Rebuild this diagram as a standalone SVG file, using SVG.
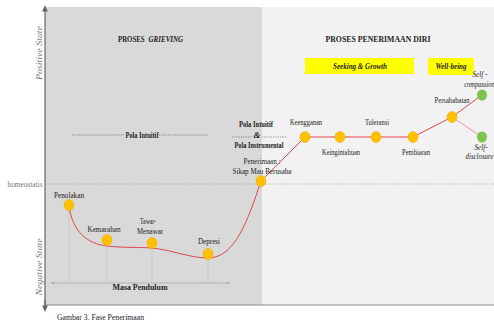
<svg xmlns="http://www.w3.org/2000/svg" width="494" height="322" viewBox="0 0 494 322">
<defs>
<style>
text{font-family:"Liberation Serif","Times New Roman",serif;fill:#222;font-size:9px;text-anchor:middle}
.b{font-weight:bold}
.i{font-style:italic}
.g{fill:#777}
.s{text-anchor:start}
.dot{fill:#ffc000;stroke:#f5a800;stroke-width:0.5}
.grn{fill:#7cc44e}
.vl{stroke:#c4c4c4;stroke-width:0.8;fill:none}
</style>
<marker id="ah" viewBox="0 0 10 10" refX="5" refY="5" markerWidth="6" markerHeight="6" orient="auto-start-reverse"><path d="M0,1 L9,5 L0,9 Z" fill="#666"/></marker>
<marker id="ah2" viewBox="0 0 10 10" refX="5" refY="5" markerWidth="5" markerHeight="5" orient="auto-start-reverse"><path d="M0,2 L9,5 L0,8 Z" fill="#aaa"/></marker>
</defs>
<rect width="494" height="322" fill="#fff"/>
<rect x="45" y="7" width="217" height="298" fill="#d9d9d9"/>
<rect x="262" y="7" width="232" height="298" fill="#f2f2f2"/>
<line x1="45" y1="305" x2="494" y2="305" stroke="#8a8a8a" stroke-width="1.2"/>
<line x1="45" y1="184" x2="494" y2="184" stroke="#999" stroke-width="0.6" stroke-dasharray="2,1.5"/>

<g id="axis">
<line x1="45" y1="305" x2="45" y2="8" stroke="#666" stroke-width="1.2" marker-end="url(#ah)"/>
<line x1="45" y1="300" x2="45" y2="309" stroke="#666" stroke-width="1.2" marker-end="url(#ah)"/>
<text class="i g" transform="translate(42,53) rotate(-90)" font-size="8.5" textLength="54" lengthAdjust="spacingAndGlyphs">Positive State</text>
<text class="i g" transform="translate(42,267) rotate(-90)" font-size="8.5" textLength="57" lengthAdjust="spacingAndGlyphs">Negative State</text>
<text class="g" x="25" y="187" font-size="7.5" textLength="35" lengthAdjust="spacingAndGlyphs">homeostatis</text>
</g>

<g id="headers">
<text class="b s" transform="translate(118,42) scale(0.76,1)" font-size="10">PROSES</text>
<text class="b i s" transform="translate(148.5,42) scale(0.78,1)" font-size="10">GRIEVING</text>
<text class="b" x="378" y="42" font-size="10" textLength="105" lengthAdjust="spacingAndGlyphs">PROSES PENERIMAAN DIRI</text>
<rect x="305" y="58" width="109" height="16" fill="#ffff00"/>
<text class="b i" x="360" y="69" font-size="8.5" textLength="54" lengthAdjust="spacingAndGlyphs">Seeking &amp; Growth</text>
<rect x="428" y="58" width="46" height="17" fill="#ffff00"/>
<text class="b i" x="451" y="69" font-size="8.5" textLength="31" lengthAdjust="spacingAndGlyphs">Well-being</text>
</g>

<g id="pola-intuitif">
<line x1="72" y1="135" x2="124" y2="135" stroke="#555" stroke-width="0.6" stroke-dasharray="1,0.8"/>
<line x1="159" y1="135" x2="208" y2="135" stroke="#555" stroke-width="0.6" stroke-dasharray="1,0.8"/>
<text class="b" x="142" y="138" font-size="8" textLength="33" lengthAdjust="spacingAndGlyphs">Pola Intuitif</text>
</g>
<g id="pola-instrumental">
<text class="b" x="256" y="126.5" font-size="8" textLength="34" lengthAdjust="spacingAndGlyphs">Pola Intuitif</text>
<line x1="232" y1="137" x2="252" y2="137" stroke="#555" stroke-width="0.6" stroke-dasharray="1,0.8"/>
<line x1="262" y1="137" x2="287" y2="137" stroke="#555" stroke-width="0.6" stroke-dasharray="1,0.8"/>
<text class="b i" x="257" y="137.5" font-size="7.5">&amp;</text>
<text class="b" x="259" y="147.5" font-size="8" textLength="49" lengthAdjust="spacingAndGlyphs">Pola Instrumental</text>
</g>

<g id="connectors">
<line class="vl" x1="69" y1="208" x2="69" y2="283"/>
<line class="vl" x1="107" y1="246" x2="107" y2="283"/>
<line class="vl" x1="152" y1="248" x2="152" y2="283"/>
<line class="vl" x1="208" y1="258" x2="208" y2="283"/>
<line x1="52" y1="283" x2="229" y2="283" stroke="#aaa" stroke-width="0.8" marker-start="url(#ah2)" marker-end="url(#ah2)"/>
<path d="M69,205 C72,232 88,244 107,246 C125,248 140,247 152,248 C172,250 190,258 208,258 C235,258 248,220 261,181 L305,137 L413,137 L452,117 L482,95" fill="none" stroke="#e0474c" stroke-width="1"/>
<path d="M452,117 L482,137" fill="none" stroke="#eb9a9c" stroke-width="1"/>
</g>
<text class="b" x="140" y="290" font-size="9.5" textLength="55" lengthAdjust="spacingAndGlyphs">Masa Pendulum</text>

<g id="penolakan"><ellipse class="dot" cx="69" cy="205" rx="5" ry="5.5"/><text x="69" y="198" textLength="30" lengthAdjust="spacingAndGlyphs">Penolakan</text></g>
<g id="kemarahan"><ellipse class="dot" cx="107" cy="240" rx="5" ry="5.5"/><text x="104" y="232" textLength="33" lengthAdjust="spacingAndGlyphs">Kemarahan</text></g>
<g id="tawar-menawar"><ellipse class="dot" cx="152" cy="243" rx="5" ry="5.5"/><text x="148" y="224" textLength="16" lengthAdjust="spacingAndGlyphs">Tawar-</text><text x="150" y="234" textLength="26" lengthAdjust="spacingAndGlyphs">Menawar</text></g>
<g id="depresi"><ellipse class="dot" cx="208" cy="254" rx="5" ry="5.5"/><text x="209" y="244" textLength="22" lengthAdjust="spacingAndGlyphs">Depresi</text></g>
<g id="penerimaan"><ellipse class="dot" cx="261" cy="181" rx="5" ry="5.5"/><text x="262" y="164" textLength="37" lengthAdjust="spacingAndGlyphs">Penerimaan :</text><text x="262" y="174" textLength="59" lengthAdjust="spacingAndGlyphs">Sikap Mau Berusaha</text></g>
<g id="keengganan"><ellipse class="dot" cx="305" cy="137" rx="5" ry="5.5"/><text x="306" y="125" textLength="32" lengthAdjust="spacingAndGlyphs">Keengganan</text></g>
<g id="keingintahuan"><ellipse class="dot" cx="340" cy="137" rx="5" ry="5.5"/><text x="341" y="155" textLength="38" lengthAdjust="spacingAndGlyphs">Keingintahuan</text></g>
<g id="toleransi"><ellipse class="dot" cx="376" cy="137" rx="5" ry="5.5"/><text x="377" y="125" textLength="24" lengthAdjust="spacingAndGlyphs">Toleransi</text></g>
<g id="pembiaran"><ellipse class="dot" cx="413" cy="137" rx="5" ry="5.5"/><text x="416" y="155" textLength="28" lengthAdjust="spacingAndGlyphs">Pembiaran</text></g>
<g id="persahabatan"><ellipse class="dot" cx="452" cy="117" rx="5" ry="5.5"/><text x="452" y="103" textLength="35" lengthAdjust="spacingAndGlyphs">Persahabatan</text></g>
<g id="self-compassion"><ellipse class="grn" cx="482" cy="95" rx="5" ry="5.5"/><text class="i" transform="translate(480,77) scale(0.8,1)" font-size="8">Self -</text><text class="i" transform="translate(479.5,87) scale(0.72,1)" font-size="8">compassion</text></g>
<g id="self-disclosure"><ellipse class="grn" cx="482" cy="137" rx="5" ry="5.5"/><text class="i" transform="translate(481,150) scale(0.8,1)" font-size="8">Self-</text><text class="i" transform="translate(479.5,159) scale(0.76,1)" font-size="8">disclosure</text></g>

<text class="s" x="57" y="320" font-size="8.5" textLength="87" lengthAdjust="spacingAndGlyphs">Gambar 3. Fase Penerimaan</text>
</svg>
